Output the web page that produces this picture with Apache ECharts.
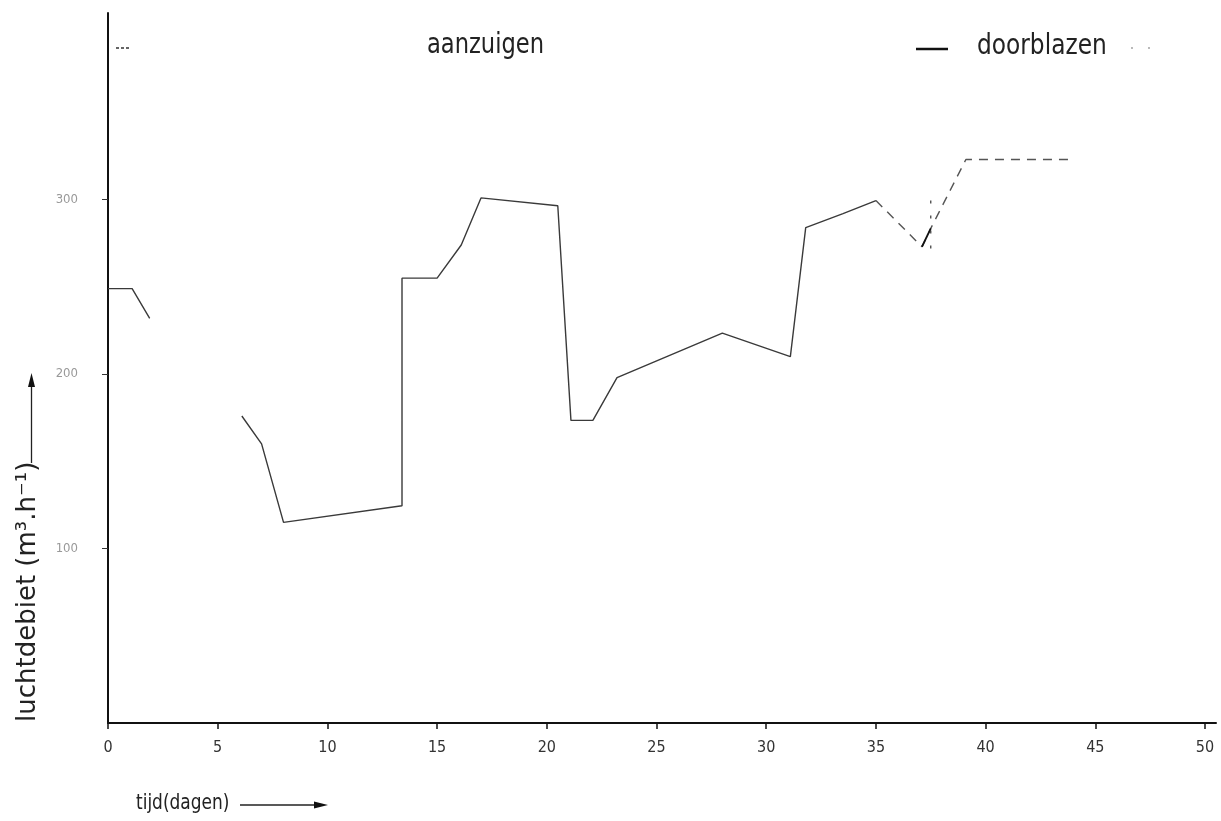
<!DOCTYPE html>
<html>
<head>
<meta charset="utf-8">
<script src="https://cdn.jsdelivr.net/npm/echarts@6/dist/echarts.min.js"></script>
<style>html,body{margin:0;padding:0;background:#fff}#c{width:1221px;height:821px}</style>
</head>
<body>
<div id="c"></div>
<script>
// X ticks (days) and Y ticks (m3/h)
const xTicks = [0, 5, 10, 15, 20, 25, 30, 35, 40, 45, 50];
const yTicks = [100, 200, 300];

// aanzuigen (suction) – first piece, a gap, then the long piece
const aanzuigen1 = [[0, 249], [1.1, 249], [1.9, 232]];
const aanzuigen2 = [[6.1, 176], [7.0, 160], [8.0, 115], [13.4, 124.5], [13.4, 255], [15.0, 255],
  [16.1, 274], [17.0, 301], [20.5, 296.5], [21.1, 173.5], [22.1, 173.5], [23.2, 198],
  [28.0, 223.5], [31.1, 210], [31.8, 284], [33.5, 292], [35.0, 299.5]];

// doorblazen (blowing through)
const doorblazen = [[35.0, 299.5], [37.1, 273], [37.5, 283.5], [39.1, 323], [43.8, 323]];
const doorblazenSolid = [[37.1, 273], [37.5, 283.5]];
const switchMark = [[37.5, 272], [37.5, 304.5]];

const chart = echarts.init(document.getElementById('c'));
const lineCol = '#3a3a3a';
const F = 'DejaVu Sans';
chart.setOption({
  animation: false,
  backgroundColor: '#fff',
  grid: { left: 108, right: 5, top: 13, bottom: 98 },
  xAxis: {
    type: 'value', min: 0, max: 50.5, interval: 5,
    splitLine: { show: false },
    axisLine: { lineStyle: { color: '#111', width: 2 } },
    axisTick: { show: true, length: 6, lineStyle: { color: '#111', width: 1.5 }, customValues: xTicks },
    axisLabel: { color: '#333', fontSize: 16, margin: 17, fontFamily: 'DejaVu Sans Condensed', customValues: xTicks }
  },
  yAxis: {
    type: 'value', min: 0, max: 407, interval: 100,
    splitLine: { show: false },
    axisLine: { lineStyle: { color: '#111', width: 2 } },
    axisTick: { show: true, length: 6, lineStyle: { color: '#333', width: 1 }, customValues: yTicks },
    axisLabel: { color: '#999', fontSize: 13, margin: 30, fontFamily: 'DejaVu Sans Condensed', customValues: yTicks,
      formatter: v => (v === 0 || v >= 400) ? '' : String(v) }
  },
  series: [
    { type: 'line', name: 'aanzuigen', data: aanzuigen1, symbol: 'none', lineStyle: { color: lineCol, width: 1.4 } },
    { type: 'line', name: 'aanzuigen', data: aanzuigen2, symbol: 'none', lineStyle: { color: lineCol, width: 1.4 } },
    { type: 'line', name: 'doorblazen', data: doorblazen, symbol: 'none', lineStyle: { color: '#555', width: 1.4, type: [9, 7] } },
    { type: 'line', name: 'doorblazen', data: doorblazenSolid, symbol: 'none', lineStyle: { color: '#111', width: 1.8 } },
    { type: 'line', name: 'switch', data: switchMark, symbol: 'none', lineStyle: { color: '#333', width: 1.2, type: [3, 12] } }
  ],
  graphic: [
    { type: 'text', x: 427, y: 46, scaleY: 1.25,
      style: { text: 'aanzuigen', fontSize: 22.6, fontFamily: F, fill: '#222', align: 'left', verticalAlign: 'middle' } },
    { type: 'text', x: 977, y: 46, scaleY: 1.25,
      style: { text: 'doorblazen', fontSize: 23.3, fontFamily: F, fill: '#222', align: 'left', verticalAlign: 'middle' } },
    { type: 'line', shape: { x1: 916, y1: 49, x2: 948, y2: 49 }, style: { stroke: '#111', lineWidth: 2.5 } },
    { type: 'circle', shape: { cx: 1132, cy: 48, r: 0.9 }, style: { fill: '#999' } },
    { type: 'circle', shape: { cx: 1149, cy: 48, r: 0.9 }, style: { fill: '#999' } },
    { type: 'line', shape: { x1: 116, y1: 48, x2: 130, y2: 48 }, style: { stroke: '#333', lineWidth: 1.5, lineDash: [3, 2] } },
    // y axis name with upward arrow
    { type: 'text', x: 28, y: 722, rotation: Math.PI / 2,
      style: { text: 'luchtdebiet (m³.h⁻¹)', fontSize: 26, fontFamily: F, fill: '#222', verticalAlign: 'middle', align: 'left' } },
    { type: 'line', shape: { x1: 31.5, y1: 463, x2: 31.5, y2: 382 }, style: { stroke: '#222', lineWidth: 1.3 } },
    { type: 'polygon', shape: { points: [[28, 387], [35, 387], [31.5, 373]] }, style: { fill: '#111' } },
    // x axis name with right arrow
    { type: 'text', x: 136, y: 803, scaleY: 1.25,
      style: { text: 'tijd(dagen)', fontSize: 17, fontFamily: F, fill: '#222', align: 'left', verticalAlign: 'middle' } },
    { type: 'line', shape: { x1: 240, y1: 805, x2: 320, y2: 805 }, style: { stroke: '#222', lineWidth: 1.3 } },
    { type: 'polygon', shape: { points: [[314, 801.5], [314, 808.5], [328, 805]] }, style: { fill: '#111' } }
  ]
});
</script>
</body>
</html>
